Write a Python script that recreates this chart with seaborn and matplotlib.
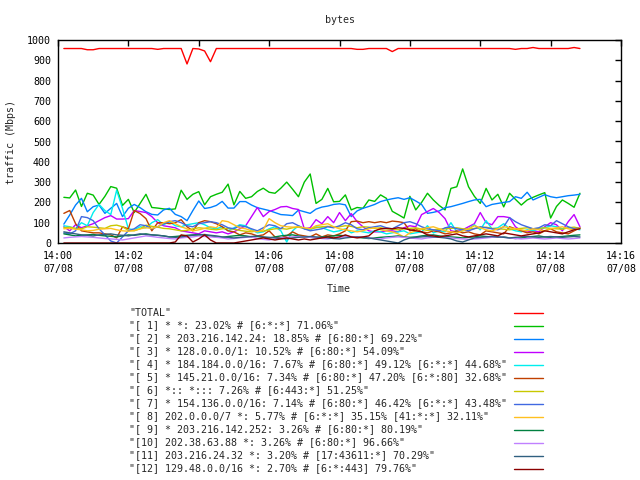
import numpy as np
import pandas as pd
import matplotlib
matplotlib.use("Agg")
import matplotlib.pyplot as plt
import matplotlib.dates as mdates
from matplotlib.lines import Line2D
import seaborn as sns

# ---------------- data ----------------
labels = [
    '"TOTAL"',
    '"[ 1] * *: 23.02% # [6:*:*] 71.06%"',
    '"[ 2] * 203.216.142.24: 18.85% # [6:80:*] 69.22%"',
    '"[ 3] * 128.0.0.0/1: 10.52% # [6:80:*] 54.09%"',
    '"[ 4] * 184.184.0.0/16: 7.67% # [6:80:*] 49.12% [6:*:*] 44.68%"',
    '"[ 5] * 145.21.0.0/16: 7.34% # [6:80:*] 47.20% [6:*:80] 32.68%"',
    '"[ 6] *:: *::: 7.26% # [6:443:*] 51.25%"',
    '"[ 7] * 154.136.0.0/16: 7.14% # [6:80:*] 46.42% [6:*:*] 43.48%"',
    '"[ 8] 202.0.0.0/7 *: 5.77% # [6:*:*] 35.15% [41:*:*] 32.11%"',
    '"[ 9] * 203.216.142.252: 3.26% # [6:80:*] 80.19%"',
    '"[10] 202.38.63.88 *: 3.26% # [6:80:*] 96.66%"',
    '"[11] 203.216.24.32 *: 3.20% # [17:43611:*] 70.29%"',
    '"[12] 129.48.0.0/16 *: 2.70% # [6:*:443] 79.76%"',
]
colors = ["#ff0000", "#00c000", "#0080ff", "#c000ff", "#00eeee", "#c04000",
          "#c8c800", "#4169e1", "#ffc020", "#008040", "#c080ff", "#306080",
          "#8b0000"]

# sample times: every 10 s from 14:00:10 to 14:14:50
start = pd.Timestamp("2008-07-08 14:00:00")
seconds = list(range(10, 900, 10))
times = [start + pd.Timedelta(seconds=s) for s in seconds]

total = [958, 958, 958, 958, 952, 952, 958, 958, 958, 958,
         958, 958, 958, 958, 958, 958, 954, 958, 958, 958,
         958, 882, 958, 956, 946, 893, 958, 958, 958, 958,
         958, 958, 958, 958, 958, 958, 958, 958, 958, 958,
         958, 958, 958, 958, 958, 958, 958, 958, 958, 958,
         954, 954, 958, 958, 958, 958, 943, 958, 958, 958,
         958, 958, 958, 958, 958, 958, 958, 958, 958, 958,
         958, 958, 958, 958, 958, 958, 958, 954, 958, 958,
         963, 958, 958, 958, 958, 958, 958, 963, 958]
s1 = [225, 222, 261, 180, 245, 236, 190, 230, 278, 270,
      185, 215, 150, 195, 240, 175, 172, 168, 165, 168,
      260, 215, 240, 253, 188, 228, 240, 250, 290, 188,
      254, 220, 228, 254, 270, 250, 245, 270, 300, 265,
      228, 300, 340, 195, 215, 269, 203, 205, 237, 163,
      175, 171, 212, 205, 237, 220, 156, 140, 123, 230,
      163, 200, 245, 212, 185, 163, 269, 277, 365, 277,
      230, 195, 269, 212, 240, 178, 245, 215, 187, 212,
      225, 237, 248, 123, 180, 212, 195, 176, 245]
s2 = [93, 138, 187, 220, 154, 179, 187, 146, 171, 195,
      130, 171, 190, 174, 154, 141, 138, 163, 171, 141,
      130, 110, 160, 207, 170, 175, 185, 205, 172, 172,
      204, 204, 187, 174, 167, 160, 150, 140, 138, 135,
      162, 154, 146, 167, 177, 182, 190, 193, 188, 130,
      158, 171, 180, 190, 204, 212, 218, 223, 215, 223,
      207, 190, 146, 151, 158, 174, 179, 187, 195, 204,
      212, 215, 179, 190, 195, 200, 204, 228, 220, 250,
      212, 225, 238, 228, 223, 228, 233, 236, 240]
s3 = [80, 60, 90, 75, 85, 95, 110, 125, 135, 118,
      118, 120, 160, 155, 150, 130, 100, 85, 80, 75,
      60, 55, 50, 45, 60, 55, 50, 55, 45, 55,
      70, 85, 130, 175, 130, 155, 165, 178, 180, 170,
      165, 70, 75, 115, 95, 130, 100, 150, 110, 145,
      105, 80, 60, 55, 55, 60, 60, 55, 75, 85,
      80, 140, 155, 170, 150, 120, 60, 55, 65, 80,
      95, 150, 100, 90, 130, 130, 125, 80, 60, 55,
      60, 55, 80, 100, 90, 60, 105, 140, 80]
s4 = [85, 80, 70, 100, 85, 150, 190, 160, 140, 260,
      170, 70, 65, 80, 75, 100, 115, 90, 105, 85,
      80, 90, 95, 100, 90, 75, 70, 80, 60, 75,
      90, 85, 65, 50, 55, 70, 80, 60, 5, 60,
      85, 70, 65, 80, 75, 65, 55, 60, 70, 50,
      60, 55, 50, 60, 55, 45, 50, 55, 60, 45,
      50, 55, 85, 50, 60, 55, 100, 55, 60, 70,
      90, 65, 110, 70, 75, 95, 70, 60, 55, 65,
      60, 70, 75, 85, 80, 70, 75, 70, 65]
s5 = [146, 160, 95, 60, 55, 50, 50, 45, 40, 25,
      80, 70, 160, 145, 120, 60, 100, 100, 95, 100,
      115, 80, 60, 100, 110, 105, 95, 80, 60, 55,
      40, 50, 45, 35, 40, 60, 30, 25, 35, 55,
      40, 35, 30, 45, 30, 40, 35, 45, 60, 105,
      108, 100, 105, 100, 105, 100, 108, 105, 100, 60,
      70, 55, 50, 60, 55, 45, 50, 60, 50, 55,
      45, 40, 60, 55, 50, 45, 80, 70, 60, 50,
      55, 45, 60, 70, 55, 50, 45, 60, 75]
s6 = [75, 78, 72, 70, 80, 78, 75, 72, 85, 88,
      80, 62, 60, 70, 88, 82, 78, 72, 70, 65,
      60, 62, 70, 75, 72, 68, 65, 70, 72, 68,
      62, 58, 55, 60, 58, 65, 70, 72, 68, 75,
      78, 72, 70, 75, 80, 82, 78, 80, 85, 82,
      75, 80, 78, 72, 75, 70, 68, 65, 70, 72,
      75, 68, 62, 65, 68, 70, 72, 75, 70, 68,
      72, 75, 78, 72, 70, 68, 65, 70, 72, 75,
      70, 72, 75, 72, 70, 68, 75, 78, 72]
s7 = [50, 45, 60, 130, 125, 110, 70, 40, 10, 0,
      30, 60, 70, 90, 85, 70, 80, 95, 105, 110,
      100, 85, 80, 95, 100, 105, 100, 90, 75, 70,
      85, 80, 70, 60, 75, 90, 85, 70, 95, 100,
      85, 70, 60, 65, 70, 80, 75, 85, 100, 90,
      70, 65, 75, 80, 85, 75, 70, 85, 100, 105,
      95, 80, 70, 65, 60, 75, 80, 70, 65, 60,
      70, 80, 75, 70, 65, 80, 125, 105, 90, 80,
      70, 75, 90, 85, 110, 95, 80, 70, 75]
s8 = [70, 72, 68, 65, 60, 62, 68, 70, 72, 65,
      60, 58, 62, 70, 75, 72, 80, 100, 110, 95,
      80, 70, 60, 65, 72, 80, 75, 110, 105, 90,
      75, 70, 60, 55, 65, 120, 100, 85, 80, 78,
      80, 75, 70, 85, 90, 95, 80, 70, 65, 60,
      55, 60, 70, 75, 65, 60, 55, 45, 30, 50,
      60, 70, 75, 80, 70, 60, 55, 50, 60, 70,
      85, 75, 65, 60, 70, 80, 75, 70, 65, 60,
      70, 65, 60, 70, 75, 80, 70, 65, 75]
s9 = [45, 40, 35, 38, 40, 42, 38, 35, 33, 30,
      35, 40, 38, 42, 45, 40, 38, 35, 30, 32,
      35, 38, 40, 42, 38, 35, 30, 28, 32, 35,
      38, 35, 30, 32, 28, 25, 30, 35, 38, 40,
      35, 30, 28, 25, 30, 32, 35, 38, 35, 30,
      28, 25, 22, 25, 28, 30, 32, 35, 30, 28,
      30, 35, 38, 40, 35, 32, 30, 28, 25, 28,
      30, 35, 32, 30, 28, 30, 25, 22, 25, 30,
      32, 35, 30, 28, 30, 32, 35, 38, 40]
s10 = [25, 28, 30, 32, 30, 28, 25, 22, 20, 18,
       15, 20, 25, 30, 35, 32, 28, 25, 22, 20,
       25, 28, 30, 35, 32, 30, 28, 25, 20, 22,
       25, 28, 30, 22, 18, 15, 20, 25, 28, 30,
       32, 30, 28, 25, 22, 20, 25, 28, 30, 32,
       30, 28, 25, 22, 20, 25, 28, 30, 28, 25,
       22, 20, 25, 28, 30, 28, 25, 22, 20, 18,
       20, 22, 25, 28, 30, 28, 25, 22, 20, 22,
       25, 22, 20, 22, 25, 22, 20, 22, 25]
s11 = [55, 50, 45, 40, 38, 35, 40, 42, 45, 40,
       38, 35, 40, 45, 42, 40, 38, 35, 30, 28,
       30, 35, 38, 40, 42, 38, 35, 30, 28, 25,
       28, 30, 32, 35, 30, 28, 25, 22, 20, 25,
       28, 30, 32, 30, 28, 25, 22, 20, 25, 28,
       30, 28, 25, 20, 15, 10, 5, 0, 15, 25,
       28, 30, 32, 30, 28, 25, 20, 10, 5, 15,
       25, 28, 30, 32, 30, 28, 25, 28, 30, 32,
       30, 28, 30, 32, 30, 28, 30, 32, 30]
s12 = [0, 0, 0, 0, 0, 0, 0, 0, 0, 0,
       0, 0, 0, 0, 0, 0, 0, 0, 0, 5,
       40, 35, 5, 20, 40, 15, 0, 0, 0, 0,
       5, 10, 15, 20, 25, 20, 15, 20, 25, 20,
       15, 20, 15, 20, 25, 30, 25, 30, 40, 30,
       25, 30, 35, 60, 70, 72, 70, 75, 72, 65,
       60, 55, 40, 35, 30, 35, 40, 45, 35, 30,
       35, 40, 45, 40, 35, 50, 45, 40, 35, 40,
       45, 50, 60, 55, 50, 45, 55, 65, 70]

series_values = [total, s1, s2, s3, s4, s5, s6, s7, s8, s9, s10, s11, s12]

# ---------------- build long table ----------------
rows = []
for lab, vals in zip(labels, series_values):
    for t, v in zip(times, vals):
        rows.append((lab, t, v))
df = pd.DataFrame(rows, columns=["series", "time", "traffic"])

# ---------------- style ----------------
sns.set_theme(style="white")
plt.rcParams["font.family"] = ["DejaVu Sans Mono"]
plt.rcParams["font.size"] = 7.2

W, H = 640, 480
fig = plt.figure(figsize=(6.4, 4.8), dpi=100)
L, R, T, B = 58, 621, 40, 243
ax = fig.add_axes([L / W, 1 - B / H, (R - L) / W, (B - T) / H])

sns.lineplot(data=df, x="time", y="traffic", hue="series", hue_order=labels,
             palette=colors, legend=False, ax=ax, linewidth=1.0,
             estimator=None, sort=False)

ax.set_xlim(start, start + pd.Timedelta(minutes=16))
ax.set_ylim(0, 1000)
ax.set_yticks(range(0, 1001, 100))
ax.xaxis.set_major_locator(mdates.MinuteLocator(byminute=range(0, 60, 2)))
ax.xaxis.set_major_formatter(mdates.DateFormatter("%H:%M\n%m/%d"))
ax.set_xlabel("")
ax.set_ylabel("")
for sp in ax.spines.values():
    sp.set_color("black")
    sp.set_linewidth(1.0)
    sp.set_visible(True)
ax.tick_params(direction="in", top=True, right=True, length=4, width=1,
               color="black", labelsize=7.2, labelcolor="black")
ax.tick_params(axis="y", pad=5)
ax.tick_params(axis="x", pad=6)
for lbl in ax.get_xticklabels():
    lbl.set_linespacing(1.35)

fig.text(339.5 / W, 1 - 20 / H, "bytes", ha="center", va="center", fontsize=7.2)
fig.text(339 / W, 1 - 289 / H, "Time", ha="center", va="center", fontsize=7.2)
fig.text(11 / W, 1 - 141.5 / H, "traffic (Mbps)", ha="center", va="center",
         rotation=90, fontsize=7.2)

# ---------------- legend (gnuplot style, below the plot) ----------------
for k, (lab, col) in enumerate(zip(labels, colors)):
    y = 312.5 + 13 * k
    fig.text(129 / W, 1 - y / H, lab, ha="left", va="center", fontsize=7.2)
    fig.add_artist(Line2D([514 / W, 543 / W], [1 - y / H, 1 - y / H],
                          color=col, linewidth=1.0, transform=fig.transFigure))

fig.savefig("out.png", dpi=100)
